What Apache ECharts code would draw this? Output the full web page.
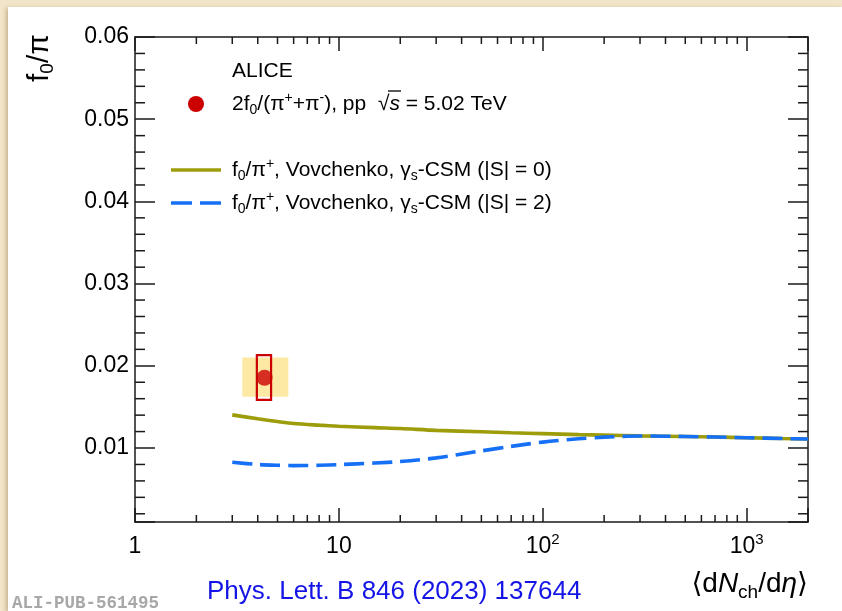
<!DOCTYPE html>
<html>
<head>
<meta charset="utf-8">
<script src="https://cdn.jsdelivr.net/npm/echarts@6/dist/echarts.min.js"></script>
<style>
  html, body { margin: 0; padding: 0; width: 842px; height: 611px; overflow: hidden; background: #f2e5c9; }
  #panel { position: absolute; left: 8px; top: 7px; width: 834px; height: 604px; background: #ffffff; box-shadow: -2px 1px 4px rgba(120,90,40,0.35); }
  #chart { position: absolute; left: 0; top: 0; width: 842px; height: 611px; }
</style>
</head>
<body>
<div id="panel"></div>
<div id="chart"></div>
<script>
// ---------- data ----------
const xRange = [1, 2000];
const yRange = [0.001, 0.06];
const yLabelValues = [0.01, 0.02, 0.03, 0.04, 0.05, 0.06];
const yLabelTexts = ['0.01', '0.02', '0.03', '0.04', '0.05', '0.06'];
const xLabelTexts = ['1', '10', '10{sup|2}', '10{sup|3}']; // for exponents 0..3
const xMinorTicks = [2, 3, 4, 5, 6, 7, 8, 9, 20, 30, 40, 50, 60, 70, 80, 90, 200, 300, 400, 500, 600, 700, 800, 900];
const yMinorTicks = [0.002, 0.004, 0.006, 0.008, 0.012, 0.014, 0.016, 0.018, 0.022, 0.024, 0.026, 0.028,
                     0.032, 0.034, 0.036, 0.038, 0.042, 0.044, 0.046, 0.048, 0.052, 0.054, 0.056, 0.058];

// ALICE measurement
const pointX = [4.32];
const pointY = [0.01855];
const boxSys = [3.96, 4.65, 0.01585, 0.0213];   // red open box [x0, x1, y0, y1]
const boxWide = [3.36, 5.65, 0.01625, 0.0210];  // yellow shaded box [x0, x1, y0, y1]

// Vovchenko gamma_s-CSM curves
const modelX = [3, 4, 5, 6, 8, 10, 15, 20, 30, 50, 70, 100, 150, 200, 300, 500, 700, 1000, 1500, 2000];
const csmS0 = [0.01403, 0.01355, 0.01322, 0.01298, 0.01278, 0.01265, 0.01248, 0.01238, 0.01215, 0.01198,
               0.01186, 0.01175, 0.01163, 0.01157, 0.01148, 0.01140, 0.01134, 0.01125, 0.01115, 0.01109];
const csmS2 = [0.00826, 0.00800, 0.00790, 0.00786, 0.00790, 0.00798, 0.00818, 0.00835, 0.00880, 0.00965,
               0.01020, 0.01072, 0.01112, 0.01132, 0.01146, 0.01140, 0.01134, 0.01125, 0.01115, 0.01109];

// ---------- styling ----------
const FONT = '"Liberation Sans", "DejaVu Sans", Arial, sans-serif';
const AXC = '#1a1a1a';
const OLIVE = '#9d9d0c';
const BLUE = '#1670f5';
const RED = '#cc0000';
const YEL = '#fde8a4';

const chart = echarts.init(document.getElementById('chart'), null, { renderer: 'canvas' });

function xFmt(v) {
  const e = Math.log10(v);
  const r = Math.round(e);
  if (Math.abs(e - r) > 1e-6) return '';
  return xLabelTexts[r] !== undefined ? xLabelTexts[r] : '';
}
function yFmt(v) {
  for (let i = 0; i < yLabelValues.length; i++) {
    if (Math.abs(v - yLabelValues[i]) < 1e-9) return yLabelTexts[i];
  }
  return '';
}

const axisLineStyle = { show: true, lineStyle: { color: AXC, width: 1.5 } };
function boxItem(b) { return [b[0], b[1], b[2], b[3]]; }

const subSup = {
  sub: { fontSize: 14, fontFamily: FONT, verticalAlign: 'bottom', lineHeight: 10, fill: '#000' },
  sup: { fontSize: 14, fontFamily: FONT, verticalAlign: 'top', lineHeight: 10, fill: '#000' },
  it: { fontSize: 21, fontFamily: FONT, fontStyle: 'italic', fill: '#000' }
};

const option = {
  backgroundColor: 'transparent',
  animation: false,
  grid: { left: 135, top: 37, right: 34, bottom: 89, containLabel: false },
  xAxis: [
    {
      type: 'log', logBase: 10, min: xRange[0], max: xRange[1], position: 'bottom',
      axisLine: axisLineStyle,
      axisTick: { show: true, inside: true, length: 14, lineStyle: { color: AXC, width: 1.5 } },
      splitLine: { show: false },
      axisLabel: {
        show: true, margin: 10, color: '#000', fontFamily: FONT, fontSize: 23, lineHeight: 30,
        formatter: xFmt,
        rich: { sup: { fontSize: 15, fontFamily: FONT, color: '#000', verticalAlign: 'top', lineHeight: 14 } }
      }
    },
    {
      type: 'log', logBase: 10, min: xRange[0], max: xRange[1], position: 'top',
      axisLine: axisLineStyle,
      axisTick: { show: true, inside: true, length: 14, lineStyle: { color: AXC, width: 1.5 } },
      splitLine: { show: false }, axisLabel: { show: false }
    }
  ],
  yAxis: [
    {
      type: 'value', min: yRange[0], max: yRange[1], splitNumber: 6, position: 'left',
      axisLine: axisLineStyle,
      axisTick: { show: true, inside: true, length: 20, lineStyle: { color: AXC, width: 1.5 } },
      splitLine: { show: false },
      axisLabel: { show: true, margin: 6, color: '#000', fontFamily: FONT, fontSize: 23, formatter: yFmt }
    },
    {
      type: 'value', min: yRange[0], max: yRange[1], splitNumber: 6, position: 'right',
      axisLine: axisLineStyle,
      axisTick: { show: true, inside: true, length: 20, lineStyle: { color: AXC, width: 1.5 } },
      splitLine: { show: false }, axisLabel: { show: false }
    }
  ],
  series: [
    // minor ticks on x axes (bottom & top)
    {
      type: 'custom', xAxisIndex: 0, yAxisIndex: 0, silent: true, z: 5,
      data: xMinorTicks.map(v => [v, yRange[0]]),
      renderItem: function (params, api) {
        const v = api.value(0);
        const b = api.coord([v, yRange[0]]);
        const t = api.coord([v, yRange[1]]);
        const st = { stroke: AXC, lineWidth: 1.5 };
        return { type: 'group', children: [
          { type: 'line', shape: { x1: b[0], y1: b[1], x2: b[0], y2: b[1] - 7 }, style: st },
          { type: 'line', shape: { x1: t[0], y1: t[1], x2: t[0], y2: t[1] + 7 }, style: st }
        ] };
      }
    },
    // minor ticks on y axes (left & right)
    {
      type: 'custom', xAxisIndex: 0, yAxisIndex: 0, silent: true, z: 5,
      data: yMinorTicks.map(v => [xRange[0], v]),
      encode: { x: 0, y: 1 },
      renderItem: function (params, api) {
        const v = api.value(1);
        const l = api.coord([xRange[0], v]);
        const r = api.coord([xRange[1], v]);
        const st = { stroke: AXC, lineWidth: 1.5 };
        return { type: 'group', children: [
          { type: 'line', shape: { x1: l[0], y1: l[1], x2: l[0] + 10, y2: l[1] }, style: st },
          { type: 'line', shape: { x1: r[0], y1: r[1], x2: r[0] - 10, y2: r[1] }, style: st }
        ] };
      }
    },
    // yellow box
    {
      type: 'custom', xAxisIndex: 0, yAxisIndex: 0, silent: true, z: 1,
      data: [boxItem(boxWide)], encode: { x: [0, 1], y: [2, 3] },
      renderItem: function (params, api) {
        const p0 = api.coord([api.value(0), api.value(3)]);
        const p1 = api.coord([api.value(1), api.value(2)]);
        return { type: 'rect', shape: { x: p0[0], y: p0[1], width: p1[0] - p0[0], height: p1[1] - p0[1] },
                 style: { fill: YEL } };
      }
    },
    // red open box
    {
      type: 'custom', xAxisIndex: 0, yAxisIndex: 0, silent: true, z: 3,
      data: [boxItem(boxSys)], encode: { x: [0, 1], y: [2, 3] },
      renderItem: function (params, api) {
        const p0 = api.coord([api.value(0), api.value(3)]);
        const p1 = api.coord([api.value(1), api.value(2)]);
        return { type: 'rect', shape: { x: p0[0], y: p0[1], width: p1[0] - p0[0], height: p1[1] - p0[1] },
                 style: { fill: 'none', stroke: RED, lineWidth: 2.2 } };
      }
    },
    // CSM |S|=0
    {
      type: 'line', name: 'S0', smooth: 0.3, showSymbol: false, z: 2,
      data: modelX.map((x, i) => [x, csmS0[i]]),
      lineStyle: { color: OLIVE, width: 3.6 }
    },
    // CSM |S|=2
    {
      type: 'line', name: 'S2', smooth: 0.3, showSymbol: false, z: 3,
      data: modelX.map((x, i) => [x, csmS2[i]]),
      lineStyle: { color: BLUE, width: 3.6, type: [20, 8] }
    },
    // ALICE point
    {
      type: 'scatter', symbol: 'circle', symbolSize: 16, z: 4,
      data: pointX.map((x, i) => [x, pointY[i]]),
      itemStyle: { color: RED }
    }
  ],
  graphic: [
    // y-axis title
    {
      type: 'text', x: 40, y: 58, rotation: Math.PI / 2, z: 10,
      style: {
        text: 'f{sub|0}/π', fontFamily: FONT, fontSize: 30, lineHeight: 34, fill: '#000', align: 'center', verticalAlign: 'middle',
        rich: { sub: { fontSize: 19, fontFamily: FONT, verticalAlign: 'bottom', lineHeight: 14, fill: '#000' } }
      }
    },
    // legend
    { type: 'text', x: 232, y: 71, z: 10,
      style: { text: 'ALICE', fontFamily: FONT, fontSize: 21, fill: '#000', verticalAlign: 'middle' } },
    { type: 'circle', shape: { cx: 196, cy: 104, r: 8 }, style: { fill: RED }, z: 10 },
    { type: 'text', x: 232, y: 104, z: 10,
      style: {
        text: '2f{sub|0}/(π{sup|+}+π{sup|-}), pp  √{it|s} = 5.02 TeV', fontFamily: FONT, fontSize: 21, lineHeight: 26, fill: '#000', verticalAlign: 'middle',
        rich: subSup
      } },
    // overline of the square-root sign
    { type: 'line', shape: { x1: 388, y1: 91, x2: 401, y2: 91 }, style: { stroke: '#000', lineWidth: 1.3 }, z: 10 },
    { type: 'line', shape: { x1: 171, y1: 170, x2: 221, y2: 170 }, style: { stroke: OLIVE, lineWidth: 3.6 }, z: 10 },
    { type: 'text', x: 232, y: 170, z: 10,
      style: {
        text: 'f{sub|0}/π{sup|+}, Vovchenko, γ{sub|s}-CSM (|S| = 0)', fontFamily: FONT, fontSize: 21, lineHeight: 26, fill: '#000', verticalAlign: 'middle',
        rich: subSup
      } },
    { type: 'line', shape: { x1: 171, y1: 203, x2: 221, y2: 203 }, style: { stroke: BLUE, lineWidth: 3.6, lineDash: [21, 8] }, z: 10 },
    { type: 'text', x: 232, y: 203, z: 10,
      style: {
        text: 'f{sub|0}/π{sup|+}, Vovchenko, γ{sub|s}-CSM (|S| = 2)', fontFamily: FONT, fontSize: 21, lineHeight: 26, fill: '#000', verticalAlign: 'middle',
        rich: subSup
      } },
    // x-axis title
    { type: 'text', x: 808, y: 584, z: 10,
      style: {
        text: '⟨d{it|N}{sub|ch}/d{it|η}⟩', fontFamily: FONT, fontSize: 28, lineHeight: 36, fill: '#000', align: 'right', verticalAlign: 'middle',
        rich: {
          it: { fontSize: 28, fontFamily: FONT, fontStyle: 'italic', fill: '#000' },
          sub: { fontSize: 19, fontFamily: FONT, verticalAlign: 'bottom', lineHeight: 14, fill: '#000' }
        }
      } },
    // reference
    { type: 'text', x: 207, y: 592, z: 10,
      style: { text: 'Phys. Lett. B 846 (2023) 137644', fontFamily: FONT, fontSize: 26, fill: '#1414e6', verticalAlign: 'middle' } },
    { type: 'text', x: 12, y: 604, z: 10,
      style: { text: 'ALI-PUB-561495', fontFamily: '"Liberation Mono", "DejaVu Sans Mono", monospace', fontWeight: 'bold', fontSize: 17.5, fill: '#a8a8a8', verticalAlign: 'middle' } }
  ]
};

chart.setOption(option);
</script>
</body>
</html>
